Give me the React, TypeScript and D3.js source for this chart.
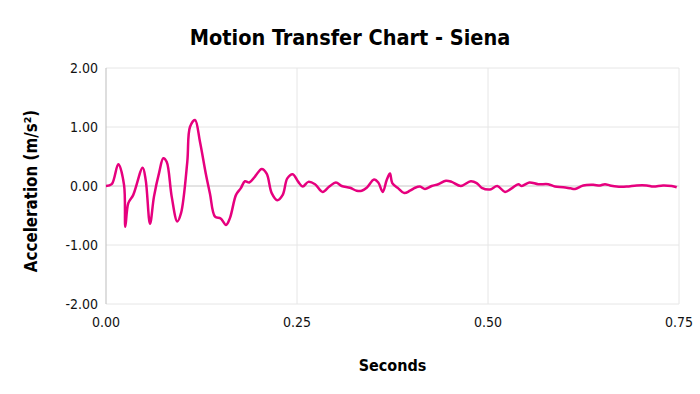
import { useEffect, useRef } from "react";
import * as d3 from "d3";

// time in seconds
const seconds = [
  0, 0.0075, 0.0161, 0.0236, 0.0253, 0.0292, 0.0357, 0.048, 0.052, 0.0576,
  0.0628, 0.0698, 0.075, 0.0794, 0.086, 0.0933, 0.0982, 0.1064, 0.1099, 0.1165,
  0.123, 0.1309, 0.1361, 0.1427, 0.1501, 0.1571, 0.1623, 0.1702, 0.1763, 0.1819,
  0.1876, 0.195, 0.2038, 0.2103, 0.2169, 0.2242, 0.2313, 0.2373, 0.2444, 0.2517,
  0.2575, 0.2648, 0.2736, 0.2836, 0.2923, 0.301, 0.3085, 0.3194, 0.3281, 0.3347,
  0.3412, 0.3508, 0.3564, 0.3622, 0.3674, 0.3717, 0.3747, 0.3826, 0.3904, 0.3979,
  0.4045, 0.411, 0.4175, 0.4263, 0.4349, 0.445, 0.4525, 0.4643, 0.4774, 0.4852,
  0.4918, 0.5026, 0.5122, 0.5223, 0.531, 0.5397, 0.5442, 0.5541, 0.5658, 0.5789,
  0.5877, 0.5986, 0.6082, 0.6139, 0.6247, 0.6378, 0.6466, 0.6531, 0.6597, 0.6685,
  0.6815, 0.6946, 0.7077, 0.7164, 0.7291, 0.7405, 0.747,
];

// acceleration in m/s²
const acceleration = [
  0, 0.03, 0.37, 0.02, -0.69, -0.29, -0.15, 0.31, 0.1, -0.64,
  -0.18, 0.24, 0.47, 0.41, -0.18, -0.6, -0.46, 0.41, 1.0, 1.12,
  0.75, 0.19, -0.13, -0.52, -0.55, -0.66, -0.54, -0.15, -0.04, 0.08,
  0.06, 0.16, 0.29, 0.21, -0.12, -0.24, -0.15, 0.13, 0.2, 0.07,
  -0.01, 0.07, 0.03, -0.1, -0.01, 0.06, 0, -0.03, -0.08, -0.08,
  -0.03, 0.11, 0.06, -0.1, 0.1, 0.21, 0.05, -0.04, -0.12, -0.08,
  -0.03, -0.01, -0.05, 0, 0.03, 0.09, 0.07, 0, 0.08, 0.05,
  -0.03, -0.06, 0, -0.1, -0.04, 0.03, 0, 0.06, 0.03, 0.03,
  -0.01, -0.02, -0.04, -0.05, 0.01, 0.02, 0.01, 0.03, 0.01, -0.01,
  -0.01, 0.01, 0.01, -0.01, 0.01, 0, -0.02,
];

const xTicks = [0, 0.25, 0.5, 0.75];
const yTicks = [-2, -1, 0, 1, 2];

const width = 700;
const height = 394;
const margin = { top: 68, right: 21, bottom: 90, left: 106 };
const font = "'DejaVu Sans Condensed', 'DejaVu Sans', sans-serif";
const fmt = (d: number) => d.toFixed(2);

function App() {
  const ref = useRef<SVGSVGElement>(null);

  useEffect(() => {
    const svg = d3.select(ref.current);
    svg.selectAll("*").remove();

    const x = d3
      .scaleLinear()
      .domain([0, 0.75])
      .range([margin.left, width - margin.right]);
    const y = d3
      .scaleLinear()
      .domain([-2, 2])
      .range([height - margin.bottom, margin.top]);

    // grid
    svg
      .append("g")
      .selectAll("line")
      .data(yTicks)
      .enter()
      .append("line")
      .attr("x1", x(0))
      .attr("x2", x(0.75))
      .attr("y1", (d) => y(d))
      .attr("y2", (d) => y(d))
      .attr("stroke", (d) => (d === 0 ? "#c8c8c8" : "#e6e6e6"))
      .attr("stroke-width", 1);

    svg
      .append("g")
      .selectAll("line")
      .data(xTicks.slice(1))
      .enter()
      .append("line")
      .attr("x1", (d) => x(d))
      .attr("x2", (d) => x(d))
      .attr("y1", y(2))
      .attr("y2", y(-2))
      .attr("stroke", "#e6e6e6");

    svg
      .append("line")
      .attr("x1", x(0))
      .attr("x2", x(0))
      .attr("y1", y(2))
      .attr("y2", y(-2))
      .attr("stroke", "#bdbdbd");

    // tick labels
    svg
      .append("g")
      .selectAll("text")
      .data(yTicks)
      .enter()
      .append("text")
      .attr("x", x(0) - 8)
      .attr("y", (d) => y(d))
      .attr("dy", "0.35em")
      .attr("text-anchor", "end")
      .attr("font-family", font)
      .attr("font-size", 14)
      .attr("fill", "#111")
      .text((d) => fmt(d));

    svg
      .append("g")
      .selectAll("text")
      .data(xTicks)
      .enter()
      .append("text")
      .attr("x", (d) => x(d))
      .attr("y", y(-2) + 23)
      .attr("text-anchor", "middle")
      .attr("font-family", font)
      .attr("font-size", 14)
      .attr("fill", "#111")
      .text((d) => fmt(d));

    // line
    const line = d3
      .line<number>()
      .x((_, i) => x(seconds[i]))
      .y((d) => y(d))
      .curve(d3.curveCatmullRom.alpha(0.5));

    svg
      .append("path")
      .datum(acceleration)
      .attr("d", line)
      .attr("fill", "none")
      .attr("stroke", "#e6007e")
      .attr("stroke-width", 2.5)
      .attr("stroke-linejoin", "round");

    // titles
    svg
      .append("text")
      .attr("x", 350)
      .attr("y", 45)
      .attr("text-anchor", "middle")
      .attr("font-family", font)
      .attr("font-weight", "bold")
      .attr("font-size", 21.5)
      .attr("fill", "#000")
      .text("Motion Transfer Chart - Siena");

    svg
      .append("text")
      .attr("x", (x(0) + x(0.75)) / 2)
      .attr("y", 371)
      .attr("text-anchor", "middle")
      .attr("font-family", font)
      .attr("font-weight", "bold")
      .attr("font-size", 16)
      .attr("fill", "#000")
      .text("Seconds");

    svg
      .append("text")
      .attr("transform", `translate(37,191) rotate(-90)`)
      .attr("text-anchor", "middle")
      .attr("font-family", font)
      .attr("font-weight", "bold")
      .attr("font-size", 16.8)
      .attr("fill", "#000")
      .text("Acceleration (m/s²)");
  }, []);

  return (
    <svg
      ref={ref}
      width={width}
      height={height}
      style={{ position: "absolute", left: 0, top: 0, background: "#fff" }}
    />
  );
}

export default App;
